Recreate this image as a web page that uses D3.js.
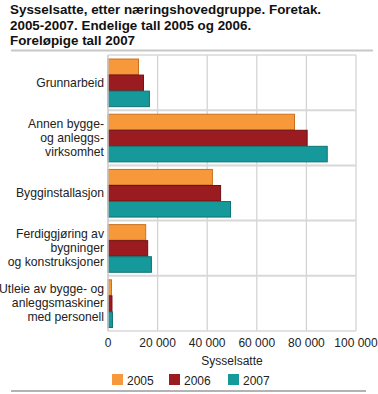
<!DOCTYPE html>
<html>
<head>
<meta charset="utf-8">
<script src="https://cdn.jsdelivr.net/npm/d3@7"></script>
<style>
  body { margin: 0; background: #fff; }
  text { font-family: "Liberation Sans", Arial, sans-serif; }
</style>
</head>
<body>
<script>
// data
var categories = [
    ["Grunnarbeid"],
    ["Annen bygge-", "og anleggs-", "virksomhet"],
    ["Bygginstallasjon"],
    ["Ferdiggjøring av", "bygninger", "og konstruksjoner"],
    ["Utleie av bygge- og", "anleggsmaskiner", "med personell"]
]
var years = ["2005", "2006", "2007"]
var v2005 = [12300, 75200, 42100, 15200, 1400]
var v2006 = [14300, 80300, 45400, 16000, 1600]
var v2007 = [16700, 88400, 49400, 17500, 1800]
var xTicks = [0, 20000, 40000, 60000, 80000, 100000]
var titleLines = [
    "Sysselsatte, etter næringshovedgruppe. Foretak.",
    "2005-2007. Endelige tall 2005 og 2006.",
    "Foreløpige tall 2007"
]

var series = [v2005, v2006, v2007]
var fills = ["#f7993a", "#9b1c20", "#16999a"]
var strokes = ["#c8701e", "#6e1014", "#0e7374"]

var width = 378, height = 394
var plotLeft = 108, plotRight = 356, plotTop = 55, plotBottom = 331

var svg = d3.select("body").append("svg")
    .attr("width", width)
    .attr("height", height)

// title
svg.append("g").selectAll("text")
    .data(titleLines)
    .enter().append("text")
    .attr("x", 10)
    .attr("y", (d, i) => 14 + i * 15.5)
    .attr("font-size", 13.4)
    .attr("font-weight", "bold")
    .attr("fill", "#111")
    .text(d => d)

svg.append("line")
    .attr("x1", 11).attr("x2", 373)
    .attr("y1", 50.5).attr("y2", 50.5)
    .attr("stroke", "#c8c8c8").attr("stroke-width", 2)

var x = d3.scaleLinear().domain([0, 100000]).range([plotLeft, plotRight])
var y = d3.scaleBand().domain(d3.range(categories.length)).range([plotTop, plotBottom])
var inner = d3.scaleBand().domain(d3.range(years.length))
    .range([0, y.bandwidth()]).paddingOuter(0.22)

// vertical grid
svg.append("g").selectAll("line")
    .data(xTicks.slice(1))
    .enter().append("line")
    .attr("x1", d => x(d)).attr("x2", d => x(d))
    .attr("y1", plotTop).attr("y2", plotBottom)
    .attr("stroke", "#d4d4d4").attr("stroke-width", 1.3)

// horizontal separators between groups + top and bottom frame
svg.append("g").selectAll("line")
    .data(d3.range(0, categories.length + 1))
    .enter().append("line")
    .attr("x1", plotLeft).attr("x2", plotRight)
    .attr("y1", d => y(d) === undefined ? plotBottom : y(d))
    .attr("y2", d => y(d) === undefined ? plotBottom : y(d))
    .attr("stroke", "#d8d8d8").attr("stroke-width", d => d === 0 || d === categories.length ? 1.3 : 2)

// bars
series.forEach((vals, s) => {
    svg.append("g").selectAll("rect")
        .data(vals)
        .enter().append("rect")
        .attr("x", x(0))
        .attr("y", (d, i) => y(i) + inner(s) + 0.5)
        .attr("width", d => x(d) - x(0))
        .attr("height", inner.bandwidth() - 0.5)
        .attr("fill", fills[s])
        .attr("stroke", strokes[s])
        .attr("stroke-width", 1)
})

// left axis line
svg.append("line")
    .attr("x1", plotLeft).attr("x2", plotLeft)
    .attr("y1", plotTop).attr("y2", plotBottom)
    .attr("stroke", "#c8c8c8").attr("stroke-width", 1.5)

// category labels
var labels = svg.append("g").selectAll("text")
    .data(categories)
    .enter().append("text")
    .attr("text-anchor", "end")
    .attr("font-size", 12.2)
    .attr("fill", "#222")
labels.each(function (lines, i) {
    var cy = y(i) + y.bandwidth() / 2
    d3.select(this).selectAll("tspan")
        .data(lines)
        .enter().append("tspan")
        .attr("x", 104)
        .attr("y", (d, k) => cy + 4 + (k - (lines.length - 1) / 2) * 14)
        .text(d => d)
})

// x axis labels
svg.append("g").selectAll("text")
    .data(xTicks)
    .enter().append("text")
    .attr("x", d => x(d))
    .attr("y", 347)
    .attr("text-anchor", "middle")
    .attr("font-size", 12)
    .attr("fill", "#222")
    .text(d => d === 0 ? "0" : d3.format(",")(d).replace(/,/g, " "))

svg.append("text")
    .attr("x", x(50000))
    .attr("y", 365)
    .attr("text-anchor", "middle")
    .attr("font-size", 12)
    .attr("fill", "#222")
    .text("Sysselsatte")

// legend
var legendX = [112, 169, 228]
var legend = svg.append("g").selectAll("g")
    .data(years)
    .enter().append("g")
    .attr("transform", (d, i) => `translate(${legendX[i]},374)`)
legend.append("rect")
    .attr("width", 11).attr("height", 11)
    .attr("fill", (d, i) => fills[i])
legend.append("text")
    .attr("x", 15).attr("y", 10.5)
    .attr("font-size", 12)
    .attr("fill", "#222")
    .text(d => d)

svg.append("line")
    .attr("x1", 11).attr("x2", 366)
    .attr("y1", 391).attr("y2", 391)
    .attr("stroke", "#9a9a9a").attr("stroke-width", 1.5)
</script>
</body>
</html>
